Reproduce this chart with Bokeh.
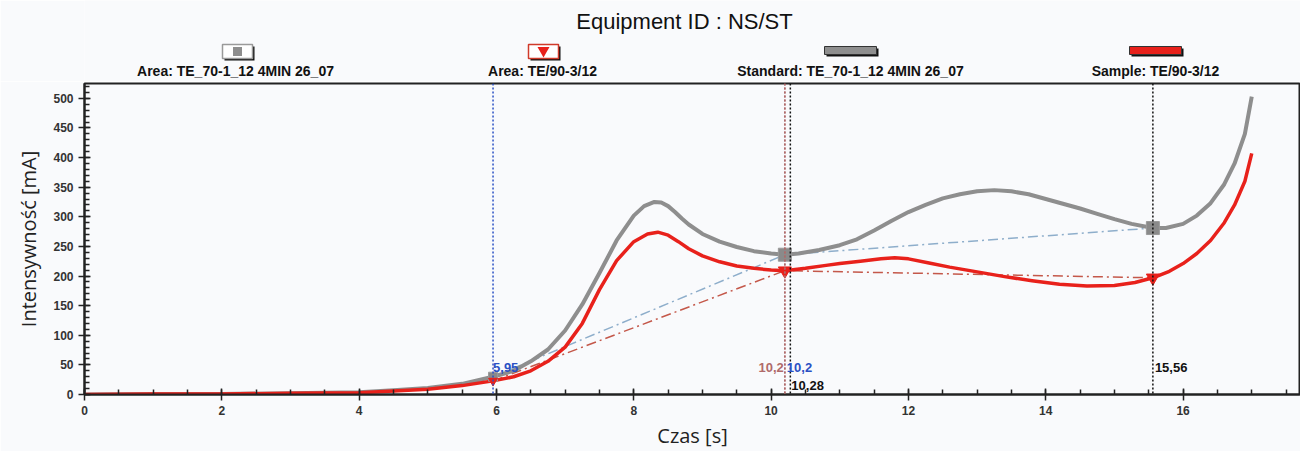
from bokeh.plotting import figure
from bokeh.models import Range1d, SingleIntervalTicker, Span, Label
from bokeh.layouts import column
from bokeh.embed import file_html
from bokeh.resources import INLINE
from bokeh.core.properties import value

# ---------------- data ----------------
title_text = "Equipment ID : NS/ST"
x_label = "Czas [s]"
y_label = "Intensywność [mA]"
legend_labels = ["Area: TE_70-1_12 4MIN 26_07", "Area: TE/90-3/12",
                 "Standard: TE_70-1_12 4MIN 26_07", "Sample: TE/90-3/12"]

# Standard curve (grey)
t_std = [0, 1, 2, 3, 4, 4.5, 5, 5.5, 5.95, 6.25, 6.5, 6.75, 7, 7.25, 7.5, 7.75, 8, 8.15,
         8.3, 8.4, 8.5, 8.6, 8.7, 8.8, 9, 9.25, 9.5, 9.75, 10, 10.2, 10.4, 10.7, 11, 11.25, 11.5,
         11.75, 12, 12.25, 12.5, 12.75, 13, 13.25, 13.5, 13.75, 14, 14.25, 14.5, 14.75,
         15, 15.25, 15.56, 15.75, 16, 16.2, 16.4, 16.6, 16.75, 16.9, 17.0]
v_std = [0, 1, 1, 2, 4, 7, 11, 18, 30, 40, 56, 76, 108, 152, 205, 260, 302, 318,
         325, 324, 318, 308, 297, 287, 271, 258, 249, 242, 238, 236, 238, 244, 252, 262, 277,
         293, 308, 320, 331, 338, 343, 345, 343, 338, 330, 322, 314, 305,
         296, 288, 281, 281, 288, 302, 323, 355, 390, 440, 503]

# Sample curve (red)
t_smp = [0, 1, 2, 3, 4, 4.5, 5, 5.5, 5.95, 6.25, 6.5, 6.75, 7, 7.25, 7.5, 7.75, 8, 8.2,
         8.35, 8.5, 8.65, 8.8, 9, 9.25, 9.5, 9.75, 10, 10.2, 10.5, 10.8, 11, 11.3, 11.6,
         11.8, 12, 12.3, 12.6, 13, 13.4, 13.8, 14.2, 14.6, 15, 15.3, 15.56, 15.8, 16,
         16.2, 16.4, 16.6, 16.75, 16.9, 17.0]
v_smp = [0, 1, 1, 2, 3, 6, 9, 15, 23, 30, 40, 56, 80, 120, 177, 226, 258, 271,
         274, 269, 258, 246, 234, 224, 217, 213, 210, 209, 213, 218, 221, 225, 229,
         231, 229, 222, 215, 207, 199, 192, 186, 183, 184, 189, 197, 208, 221,
         238, 260, 290, 320, 360, 407]

# Area markers / baseline points
marker_t = [5.95, 10.2, 15.56]
std_marker_v = [30, 236, 281]
smp_marker_v = [23, 209, 197]

# Cursors
cursor_t = [5.95, 10.2, 10.2, 10.28, 15.56]
cursor_text = ["5,95", "10,2", "10,2", "10,28", "15,56"]

x_max = 17.71
y_max = 525

# ---------------- styles / layout ----------------
BG = "#f9fafc"
GREY = "#8e8e8e"
RED = "#e8211b"
BLUE = "#2a50c4"
BROWN = "#b06a6a"
label_y = [45, 45, 45, 15, 45]
label_color = [BLUE, BROWN, BLUE, "#111111", "#111111"]
label_align = ["left", "right", "left", "left", "left"]
label_xoff = [0, -1, 2, 1, 2]
line_color = [BLUE, BROWN, BROWN, "#111111", "#111111"]

LEFT = 84
W = 1300

# ---------------- header ----------------
HDR_H = 81
hdr = figure(width=W, height=HDR_H, x_range=Range1d(LEFT, W), y_range=Range1d(HDR_H, 0),
             output_backend="svg", toolbar_location=None, min_border=0,
             min_border_left=LEFT,
             x_axis_location=None, y_axis_location=None,
             outline_line_color=None, background_fill_color=BG, border_fill_color=BG)
hdr.grid.visible = False

hdr.text(x=[684], y=[21], text=[title_text], text_font=value("Liberation Sans"),
         text_font_size="22px", text_align="center", text_baseline="middle", text_color="#111111")

leg_x = [235, 542, 850, 1155]
hdr.text(x=leg_x, y=[70] * 4, text=legend_labels, text_font=value("Liberation Sans"),
         text_font_style="bold", text_font_size="14px", text_align="center",
         text_baseline="middle", text_color="#111111")

icon_y = 51
# area icons (boxes)
box_x = [leg_x[0] + 2, leg_x[1] + 1]
hdr.rect(x=[bx + 2 for bx in box_x], y=[icon_y + 2] * 2, width=30, height=14,
         fill_color="#111111", line_color=None)
hdr.rect(x=box_x, y=[icon_y] * 2, width=30, height=14, fill_color="white",
         line_color=["#9a9a9a", "#d03a2a"], line_width=1.5)
hdr.rect(x=[box_x[0]], y=[icon_y], width=9, height=9, fill_color=GREY, line_color=None)
hdr.scatter(x=[box_x[1]], y=[icon_y - 1], marker="inverted_triangle", size=12,
            fill_color=RED, line_color=None)
# series icons (bars)
bar_x = [leg_x[2], leg_x[3]]
hdr.rect(x=[b + 2 for b in bar_x], y=[icon_y + 1] * 2, width=52, height=8,
         fill_color="#111111", line_color=None)
hdr.rect(x=bar_x, y=[icon_y - 1] * 2, width=52, height=8, fill_color=[GREY, RED],
         line_color="#333333", line_width=1)

# ---------------- main plot ----------------
p = figure(width=W, height=451 - HDR_H, x_range=Range1d(0, x_max), y_range=Range1d(0, y_max),
           output_backend="svg", toolbar_location=None,
           min_border_left=LEFT, min_border_right=0, min_border_top=2, min_border_bottom=56,
           background_fill_color=BG, border_fill_color=BG,
           outline_line_color="#222222", outline_line_width=2)
p.grid.visible = False

p.xaxis.ticker = SingleIntervalTicker(interval=2, num_minor_ticks=4)
p.yaxis.ticker = SingleIntervalTicker(interval=50, num_minor_ticks=5)
for ax in (p.xaxis, p.yaxis):
    ax.axis_line_color = "#222222"
    ax.axis_line_width = 2
    ax.major_tick_line_color = "#222222"
    ax.major_tick_line_width = 1.5
    ax.minor_tick_line_color = "#222222"
    ax.minor_tick_line_width = 1.5
    ax.major_tick_in = 6
    ax.major_tick_out = 6
    ax.minor_tick_in = 5
    ax.minor_tick_out = 0
    ax.major_label_text_font = "Liberation Sans"
    ax.major_label_text_font_style = "bold"
    ax.major_label_text_font_size = "12px"
    ax.major_label_text_color = "#333333"
    ax.major_label_standoff = 5
    ax.axis_label_text_font = "Open Sans"
    ax.axis_label_text_font_style = "normal"
    ax.axis_label_text_font_size = "20px"
    ax.axis_label_text_color = "#222222"
p.xaxis.axis_label = x_label
p.yaxis.axis_label = y_label
p.xaxis.axis_label_standoff = 4
p.yaxis.axis_label_standoff = 8

# cursors
for ct, lc in zip(cursor_t, line_color):
    p.add_layout(Span(location=ct, dimension="height", line_color=lc,
                      line_dash="2 2", line_width=1.5))

# baselines (dash-dot)
p.line(marker_t, std_marker_v, line_color="#8eaecb", line_width=1.5, line_dash="10 4 2 4")
p.line(marker_t, smp_marker_v, line_color="#c4584a", line_width=1.5, line_dash="10 4 2 4")

# curves
p.line(t_std, v_std, line_color=GREY, line_width=4, line_join="round")
p.line(t_smp, v_smp, line_color=RED, line_width=3.5, line_join="round")

# markers
p.scatter(marker_t, std_marker_v, marker="square", size=[9, 13, 13], fill_color="#8a8a8a",
          line_color="#9a9a9a")
p.scatter(marker_t, smp_marker_v, marker="inverted_triangle", size=[9, 13, 13],
          fill_color=RED, line_color=RED)

# cursor labels
for ct, txt, ly, lc, la, lx in zip(cursor_t, cursor_text, label_y, label_color, label_align, label_xoff):
    p.add_layout(Label(x=ct, y=ly, text=txt, x_offset=lx, text_color=lc, text_align=la,
                       text_baseline="middle", text_font="Liberation Sans",
                       text_font_style="bold", text_font_size="13px"))

layout = column(hdr, p, spacing=0)
open("out.html", "w").write(file_html(layout, INLINE))
